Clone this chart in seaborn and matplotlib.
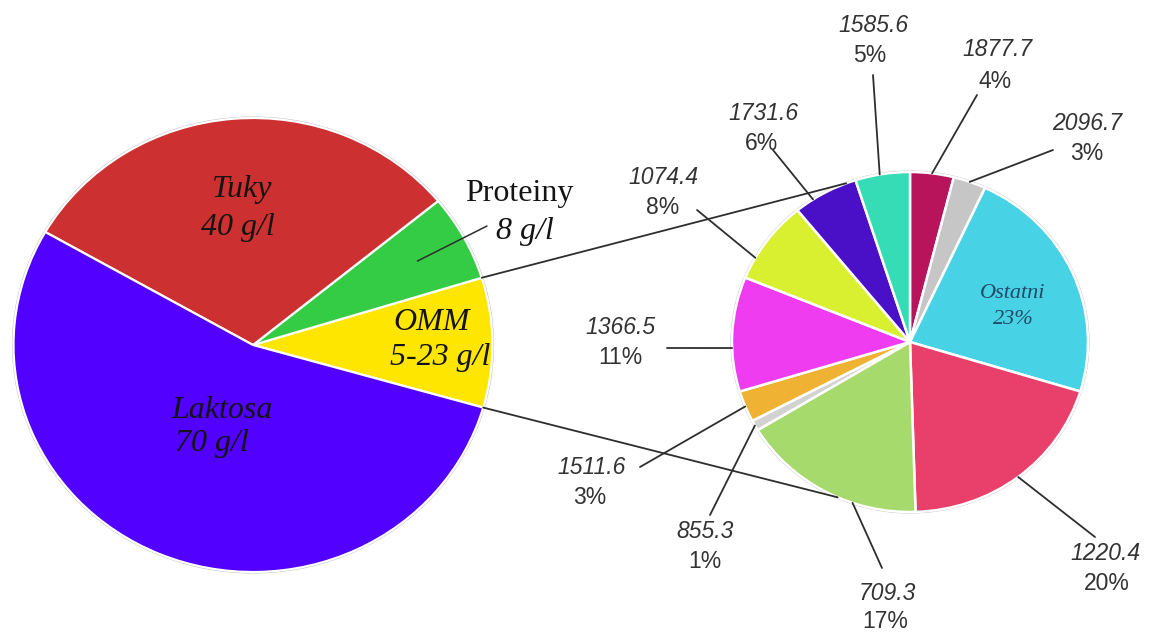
import numpy as np
import matplotlib
matplotlib.use("Agg")
import matplotlib.pyplot as plt
import seaborn as sns

sns.set_theme(style="white")
plt.rcParams["font.family"] = ["Liberation Sans", "DejaVu Sans"]

# --- data -------------------------------------------------------------
# Milk composition (g/l); OMM is given as a 5-23 g/l range
main_names = ["OMM", "Proteiny", "Tuky", "Laktosa"]
main_values = [12, 8, 40, 70]
main_units = ["5-23 g/l", "8 g/l", "40 g/l", "70 g/l"]

# Oligosaccharide (OMM) breakdown: molar mass and share in %
omm_mass = ["1877.7", "2096.7", "Ostatni", "1220.4", "709.3",
            "855.3", "1511.6", "1366.5", "1074.4", "1731.6", "1585.6"]
omm_share = [4, 3, 23, 20, 17, 1, 3, 11, 8, 6, 5]

# --- styling ----------------------------------------------------------
main_colors = ["#FFE600", "#35CC45", "#CC3030", "#5200FF"]
omm_colors = ["#B8145C", "#C6C6C6", "#48D2E6", "#E8406A", "#A6DA6C",
              "#D2D2D2", "#F0B232", "#F03CF0", "#D8F030", "#4A10C8", "#36DCB6"]

W, H = 1149, 633
fig = plt.figure(figsize=(W / 100, H / 100), dpi=100)
fig.patch.set_facecolor("white")

PAD = 1.05


def pie_axes(cx, cy, rx, ry):
    x0, x1 = cx - rx * PAD, cx + rx * PAD
    y0, y1 = cy - ry * PAD, cy + ry * PAD
    return fig.add_axes([x0 / W, 1 - y1 / H, (x1 - x0) / W, (y1 - y0) / H])


def finish_pie(ax):
    ax.set_aspect("auto")
    ax.set_xlim(-PAD, PAD)
    ax.set_ylim(-PAD, PAD)
    ax.axis("off")
    ring = plt.Circle((0, 0), 1.0, fill=False, edgecolor="#BDBDBD", lw=2.2, zorder=0)
    ax.add_patch(ring)


# main pie
ax_l = pie_axes(253, 345, 239.5, 227)
wedges_l, _ = ax_l.pie(main_values, colors=main_colors, startangle=-16,
                       counterclock=True, radius=1.0,
                       wedgeprops=dict(edgecolor="white", linewidth=1.6))
finish_pie(ax_l)

# OMM pie
ax_r = pie_axes(910, 342, 178, 170)
wedges_r, _ = ax_r.pie(omm_share, colors=omm_colors, startangle=90,
                       counterclock=False, radius=1.0,
                       wedgeprops=dict(edgecolor="white", linewidth=1.8))
finish_pie(ax_r)

# overlay in pixel coordinates for lines and labels
ax_o = fig.add_axes([0, 0, 1, 1], zorder=5)
ax_o.set_xlim(0, W)
ax_o.set_ylim(H, 0)
ax_o.axis("off")
ax_o.patch.set_alpha(0)


def pie_point(ax, ang, r=1.0):
    a = np.deg2rad(ang)
    p = ax.transData.transform((r * np.cos(a), r * np.sin(a)))
    return ax_o.transData.inverted().transform(p)


line_kw = dict(color="#2E2E2E", lw=1.3, solid_capstyle="round")

# connectors from the OMM slice to the breakdown pie
omm_w = wedges_l[0]
for ang_l, ang_r in [(omm_w.theta2, 111), (omm_w.theta1, 246)]:
    p0 = pie_point(ax_l, ang_l)
    p1 = pie_point(ax_r, ang_r)
    ax_o.plot([p0[0], p1[0]], [p0[1], p1[1]], **line_kw)

# labels on the main pie
serif = ["Liberation Serif", "DejaVu Serif"]
main_label_pos = {"Tuky": ((242, 190), (238, 228)),
                  "Laktosa": ((222, 410), (212, 444)),
                  "OMM": ((432, 323), (440, 357))}
for name, unit in zip(main_names, main_units):
    if name in main_label_pos:
        (x0, y0), (x1, y1) = main_label_pos[name]
        ax_o.text(x0, y0, name, family=serif, style="italic", fontsize=23,
                  ha="center", va="center", color="#141414")
        ax_o.text(x1, y1, unit, family=serif, style="italic", fontsize=23,
                  ha="center", va="center", color="#141414")
ax_o.text(519, 194, main_names[1], family=serif, fontsize=23,
          ha="center", va="center", color="#141414")
ax_o.text(525, 232, main_units[1], family=serif, style="italic", fontsize=23,
          ha="center", va="center", color="#141414")
p_prot = pie_point(ax_l, (wedges_l[1].theta1 + wedges_l[1].theta2) / 2, 0.78)
ax_o.plot([p_prot[0], 487], [p_prot[1], 226], color="#2E2E2E", lw=1.1)

# labels on the breakdown pie
num_pos = [(997, 50), (1087, 123), None, (1105, 553), (887, 593),
           (705, 532), (592, 468), (620, 327), (663, 177), (763, 113), (873, 25)]
pct_pos = [(995, 81), (1087, 153), None, (1107, 583), (885, 622),
           (705, 562), (590, 498), (620, 358), (663, 207), (762, 143), (870, 55)]
leader_end = [(977, 95), (1053, 150), None, (1095, 537), (882, 568),
              (710, 515), (640, 467), (667, 348), (697, 210), (773, 150), (873, 75)]
# where along each wedge's arc its leader starts (0 = first edge, 1 = second)
leader_frac = [0.5, 0.5, None, 0.5, 0.66, 0.5, 0.5, 0.62, 0.74, 0.71, 0.55]

for i, (w, mass, share) in enumerate(zip(wedges_r, omm_mass, omm_share)):
    if num_pos[i] is None:
        continue
    ang = w.theta1 + leader_frac[i] * (w.theta2 - w.theta1)
    p0 = pie_point(ax_r, ang)
    ax_o.plot([p0[0], leader_end[i][0]], [p0[1], leader_end[i][1]], **line_kw)
    ax_o.text(*num_pos[i], mass, style="italic", fontsize=16.5,
              ha="center", va="center", color="#333333")
    ax_o.text(*pct_pos[i], f"{share}%", fontsize=16.5,
              ha="center", va="center", color="#333333")

# label inside the "Ostatni" slice
ax_o.text(1013, 293, omm_mass[2], family=serif, style="italic", fontsize=16,
          ha="center", va="center", color="#1F4A68")
ax_o.text(1013, 320, f"{omm_share[2]}%", family=serif, style="italic", fontsize=16,
          ha="center", va="center", color="#1F4A68")

fig.savefig("out.png", dpi=100, facecolor="white")
